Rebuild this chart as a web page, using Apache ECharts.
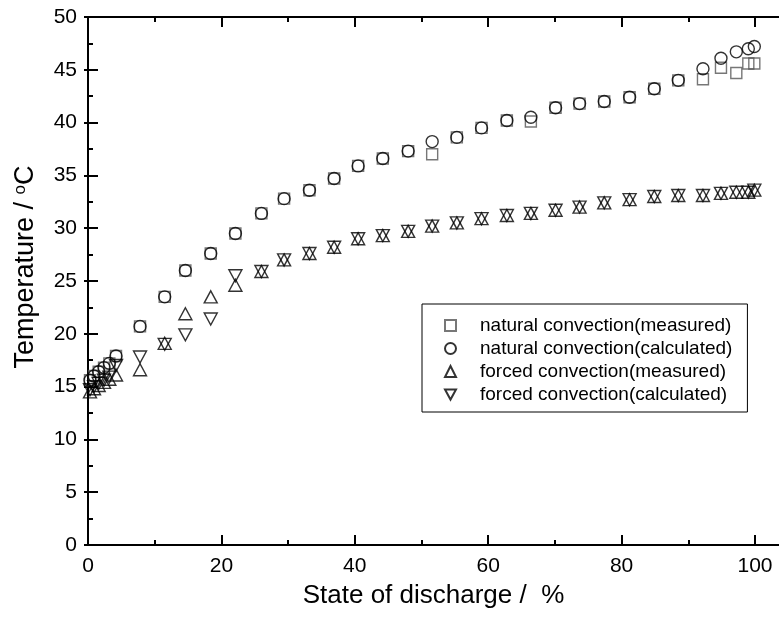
<!DOCTYPE html>
<html>
<head>
<meta charset="utf-8">
<script src="https://cdn.jsdelivr.net/npm/echarts@6/dist/echarts.min.js"></script>
<style>
  html, body { margin: 0; padding: 0; background: #fff; }
  #chart { width: 779px; height: 617px; }
</style>
</head>
<body>
<div id="chart"></div>
<script>
// state of discharge (%) for each measurement step
const sod = [0.3, 0.9, 1.6, 2.4, 3.2, 4.2, 7.8, 11.5, 14.6, 18.4, 22.1, 26.0, 29.4, 33.2, 36.9,
    40.5, 44.2, 48.0, 51.6, 55.3, 59.0, 62.8, 66.4, 70.1, 73.7, 77.4, 81.2, 84.9, 88.5,
    92.2, 94.9, 97.2, 99.0, 99.9];

const naturalMeasured = [15.6, 16.0, 16.4, 16.8, 17.2, 17.9, 20.7, 23.5, 26.0, 27.6, 29.5, 31.4, 32.8, 33.6, 34.7,
    35.9, 36.6, 37.3, 37.0, 38.6, 39.5, 40.2, 40.1, 41.4, 41.8, 42.0, 42.4, 43.2, 44.0,
    44.1, 45.2, 44.7, 45.6, 45.6];
const naturalCalculated = [15.6, 16.0, 16.4, 16.8, 17.2, 17.9, 20.7, 23.5, 26.0, 27.6, 29.5, 31.4, 32.8, 33.6, 34.7,
    35.9, 36.6, 37.3, 38.2, 38.6, 39.5, 40.2, 40.5, 41.4, 41.8, 42.0, 42.4, 43.2, 44.0,
    45.1, 46.1, 46.7, 47.0, 47.2];
const forcedMeasured = [14.5, 14.8, 15.1, 15.4, 15.7, 16.1, 16.6, 19.1, 21.9, 23.5, 24.6, 25.9, 27.0, 27.6, 28.2,
    29.0, 29.3, 29.7, 30.2, 30.5, 30.9, 31.2, 31.4, 31.7, 32.0, 32.4, 32.7, 33.0, 33.1,
    33.1, 33.3, 33.4, 33.4, 33.6];
const forcedCalculated = [14.7, 15.0, 15.3, 15.6, 15.9, 17.0, 17.8, 19.0, 19.9, 21.4, 25.5, 25.9, 27.0, 27.6, 28.2,
    29.0, 29.3, 29.7, 30.2, 30.5, 30.9, 31.2, 31.4, 31.7, 32.0, 32.4, 32.7, 33.0, 33.1,
    33.1, 33.3, 33.4, 33.4, 33.6];

const xMajorTicks = [0, 20, 40, 60, 80, 100];
const xMinorTicks = [10, 30, 50, 70, 90];

const seriesNames = [
    'natural convection(measured)',
    'natural convection(calculated)',
    'forced convection(measured)',
    'forced convection(calculated)'
];

const font = 'Liberation Sans, Arial, sans-serif';
const downTriangle = 'path://M0,0 L12,0 L6,11 Z';

const pairs = vals => sod.map((x, i) => [x, vals[i]]);

function makeSeries(name, vals, symbol, size, stroke) {
    return {
        name: name,
        type: 'scatter',
        data: pairs(vals),
        symbol: symbol,
        symbolSize: size,
        itemStyle: {
            color: 'rgba(0,0,0,0)',
            borderColor: stroke,
            borderWidth: 1.4,
        },
        emphasis: { disabled: true },
    };
}

const chart = echarts.init(document.getElementById('chart'));

const tickStyle = { color: '#000', width: 2 };
const axisLine = { show: true, onZero: false, lineStyle: { color: '#000', width: 2 } };
const X_MAX = 103.6; // right frame sits at the picture's edge

function xAxisPair(position, withLabels) {
    const major = {
        type: 'value',
        min: 0,
        max: X_MAX,
        position: position,
        axisLine: axisLine,
        axisTick: { inside: true, length: 10, lineStyle: tickStyle, customValues: xMajorTicks },
        axisLabel: withLabels
            ? { margin: 11, fontFamily: font, fontSize: 21, color: '#000', customValues: xMajorTicks }
            : { show: false },
        splitLine: { show: false },
    };
    if (withLabels) {
        major.name = 'State of discharge /  %';
        major.nameLocation = 'middle';
        major.nameGap = 38;
        major.nameTextStyle = { fontFamily: font, fontSize: 26, color: '#000' };
    }
    const minor = {
        type: 'value',
        min: 0,
        max: X_MAX,
        position: position,
        axisLine: { show: false, onZero: false },
        axisTick: { inside: true, length: 5, lineStyle: tickStyle, customValues: xMinorTicks },
        axisLabel: { show: false },
        splitLine: { show: false },
    };
    return [major, minor];
}

const option = {
    animation: false,
    backgroundColor: '#fff',
    textStyle: { fontFamily: font },
    grid: { left: 88, right: 0, top: 17, bottom: 72 },
    legend: {
        orient: 'vertical',
        left: 422,
        top: 304,
        data: seriesNames,
        itemWidth: 11,
        itemHeight: 11,
        itemGap: 4,
        padding: [12, 15, 8, 22],
        borderColor: '#000',
        borderWidth: 1,
        textStyle: { fontFamily: font, fontSize: 19, lineHeight: 19, color: '#000', padding: [0, 0, 0, 19] },
    },
    xAxis: xAxisPair('bottom', true).concat(xAxisPair('top', false)),
    yAxis: [
        {
            type: 'value',
            min: 0,
            max: 50,
            interval: 5,
            position: 'left',
            name: '{t|Temperature / }{s|o}{t|C}',
            nameLocation: 'middle',
            nameRotate: 90,
            nameGap: 49,
            nameTextStyle: {
                padding: [0, 0, 0, 28],
                rich: {
                    t: { fontFamily: font, fontSize: 27, color: '#000' },
                    s: { fontFamily: font, fontSize: 17, color: '#000', verticalAlign: 'top' },
                },
            },
            axisLine: axisLine,
            axisTick: { inside: true, length: 10, lineStyle: tickStyle },
            minorTick: { show: true, splitNumber: 2, length: 5, lineStyle: tickStyle },
            axisLabel: { margin: 11, fontFamily: font, fontSize: 21, color: '#000' },
            splitLine: { show: false },
        },
        {
            type: 'value',
            min: 0,
            max: 50,
            interval: 5,
            position: 'right',
            axisLine: { show: false },
            axisTick: { inside: true, length: 4, lineStyle: tickStyle },
            axisLabel: { show: false },
            splitLine: { show: false },
        },
    ],
    series: [
        makeSeries(seriesNames[0], naturalMeasured, 'rect', 11, '#555'),
        makeSeries(seriesNames[1], naturalCalculated, 'circle', 12, '#000'),
        makeSeries(seriesNames[2], forcedMeasured, 'triangle', [13, 12], '#000'),
        makeSeries(seriesNames[3], forcedCalculated, downTriangle, [13, 12], '#000'),
    ],
};

chart.setOption(option);
</script>
</body>
</html>
